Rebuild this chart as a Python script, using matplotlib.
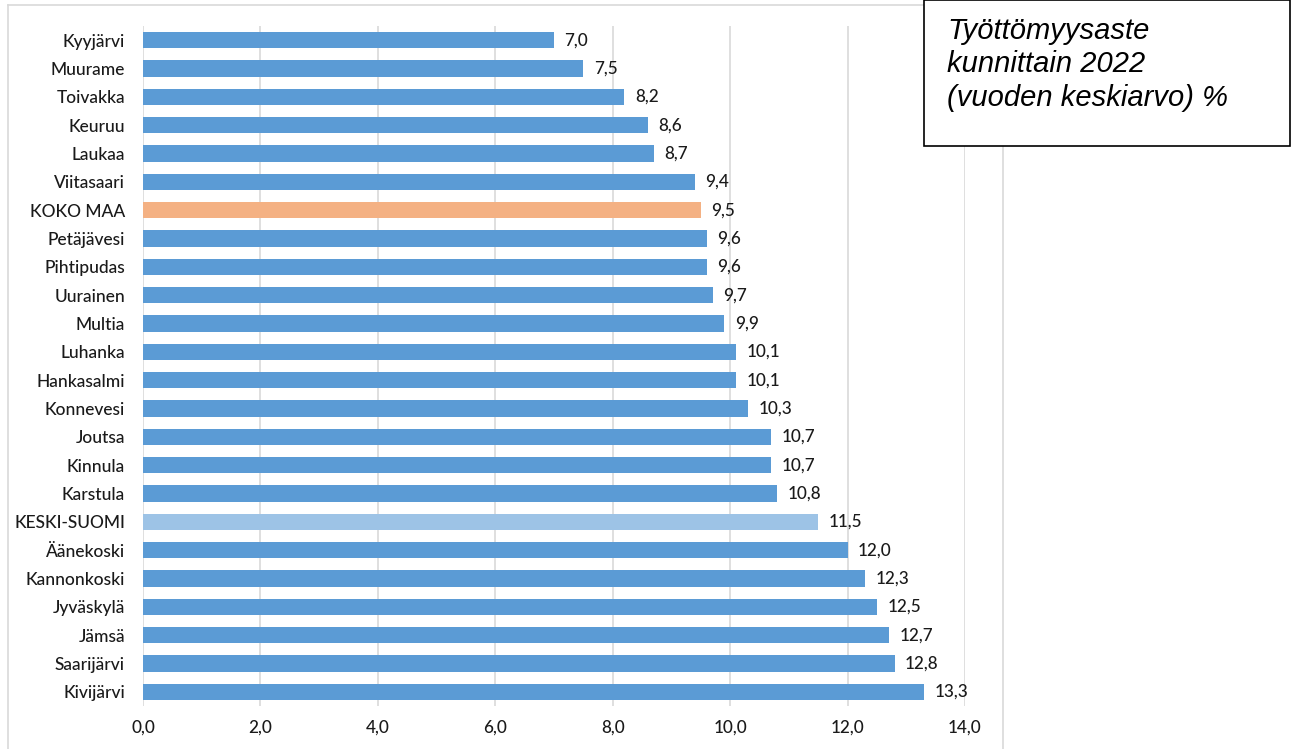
import numpy as np
import matplotlib.pyplot as plt
from matplotlib.patches import Rectangle
from matplotlib.lines import Line2D

# Data
kunnat = ['Kyyjärvi', 'Muurame', 'Toivakka', 'Keuruu', 'Laukaa', 'Viitasaari',
          'KOKO MAA', 'Petäjävesi', 'Pihtipudas', 'Uurainen', 'Multia', 'Luhanka',
          'Hankasalmi', 'Konnevesi', 'Joutsa', 'Kinnula', 'Karstula', 'KESKI-SUOMI',
          'Äänekoski', 'Kannonkoski', 'Jyväskylä', 'Jämsä', 'Saarijärvi', 'Kivijärvi']
arvot = [7.0, 7.5, 8.2, 8.6, 8.7, 9.4, 9.5, 9.6, 9.6, 9.7, 9.9, 10.1,
         10.1, 10.3, 10.7, 10.7, 10.8, 11.5, 12.0, 12.3, 12.5, 12.7, 12.8, 13.3]
xticks = [0, 2, 4, 6, 8, 10, 12, 14]

blue = '#5B9BD5'
colors = []
for k in kunnat:
    if k == 'KOKO MAA':
        colors.append('#F4B183')
    elif k == 'KESKI-SUOMI':
        colors.append('#9DC3E6')
    else:
        colors.append(blue)

plt.rcParams['font.family'] = ['Lato', 'DejaVu Sans']
txt_col = '#1A1A1A'

fig = plt.figure(figsize=(12.91, 7.49), dpi=100)
ax = fig.add_axes([143 / 1291, 1 - 706 / 749, (965 - 143) / 1291, (706 - 26) / 749])

y = np.arange(len(kunnat))
ax.barh(y, arvot, height=0.57, color=colors, zorder=2)
ax.set_ylim(len(kunnat) - 0.5, -0.5)
ax.set_xlim(0, 14)

# value labels
for yi, v in zip(y, arvot):
    ax.text(v + 0.18, yi, f'{v:.1f}'.replace('.', ','), va='center', ha='left',
            fontsize=12.3, color=txt_col, fontweight='medium')

ax.set_yticks(y)
ax.set_yticklabels(kunnat, fontsize=12.5, color=txt_col, fontweight='medium')
ax.set_xticks(xticks)
ax.set_xticklabels([f'{t:.1f}'.replace('.', ',') for t in xticks], fontsize=12.3,
                   color=txt_col, fontweight='medium')
ax.tick_params(length=0)
ax.tick_params(axis='y', pad=13)
ax.tick_params(axis='x', pad=10)
ax.grid(axis='x', color='#D9D9D9', linewidth=1.2, zorder=0)
for s in ax.spines.values():
    s.set_visible(False)

# outer chart frame
W, H = 1291, 749
frame = '#D9D9D9'
fig.add_artist(Line2D([8 / W, 8 / W], [0, 1 - 5 / H], color=frame, lw=1.2, transform=fig.transFigure))
fig.add_artist(Line2D([8 / W, 1003 / W], [1 - 5 / H, 1 - 5 / H], color=frame, lw=1.2, transform=fig.transFigure))
fig.add_artist(Line2D([1003 / W, 1003 / W], [0, 1 - 5 / H], color=frame, lw=1.2, transform=fig.transFigure))

# title box
fig.add_artist(Rectangle((924 / W, 1 - 146 / H), (1290 - 924) / W, 146 / H,
                         transform=fig.transFigure, facecolor='white',
                         edgecolor='black', lw=1.2, zorder=5))
fig.text(947 / W, 1 - 17 / H, 'Työttömyysaste\nkunnittain 2022\n(vuoden keskiarvo) %',
         family='Liberation Sans', style='italic', fontsize=21, va='top', ha='left',
         linespacing=1.24, zorder=6)

plt.savefig('out.png', dpi=100)
